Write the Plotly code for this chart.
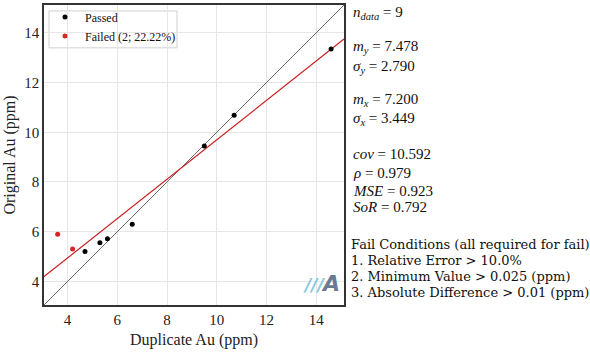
import numpy as np
import plotly.graph_objects as go

# Data
dup_pass = [4.7, 5.3, 5.6, 6.6, 9.5, 10.7, 14.6]
orig_pass = [5.2, 5.55, 5.72, 6.3, 9.45, 10.68, 13.35]
dup_fail = [3.6, 4.2]
orig_fail = [5.9, 5.3]

n_data = 9
m_y, s_y = 7.478, 2.790
m_x, s_x = 7.200, 3.449
cov, rho, mse, sor = 10.592, 0.979, 0.923, 0.792
fail_lines = [
    "Fail Conditions (all required for fail)",
    "1. Relative Error > 10.0%",
    "2. Minimum Value > 0.025 (ppm)",
    "3. Absolute Difference > 0.01 (ppm)",
]
x_ticks = [4, 6, 8, 10, 12, 14]
y_ticks = [4, 6, 8, 10, 12, 14]
lo, hi = 3.05, 15.12

FONT = "Liberation Serif"
intercept = m_y - sor * m_x
lx = np.array([lo, hi])

L, T, W, H = 44, 4, 300, 301


def px(xp):
    return (xp - L) / W


def py(yp):
    return 1 - (yp - T) / H


fig = go.Figure()
fig.add_trace(go.Scatter(x=lx, y=lx, mode="lines", line=dict(color="#333333", width=0.7),
                         showlegend=False, hoverinfo="skip"))
fig.add_trace(go.Scatter(x=lx, y=intercept + sor * lx, mode="lines",
                         line=dict(color="#c81e1e", width=1.2), showlegend=False, hoverinfo="skip"))
fig.add_trace(go.Scatter(x=dup_pass, y=orig_pass, mode="markers", name="Passed",
                         marker=dict(color="black", size=5)))
fig.add_trace(go.Scatter(x=dup_fail, y=orig_fail, mode="markers", name="Failed (2; 22.22%)",
                         marker=dict(color="#d62728", size=5)))

# legend frame
fig.add_shape(type="rect", xref="paper", yref="paper", layer="between",
              x0=px(49), x1=px(177), y0=py(47), y1=py(10),
              fillcolor="white", line=dict(color="#d0d0d0", width=1))

fig.update_layout(
    width=590, height=352,
    margin=dict(l=L, r=590 - L - W, t=T, b=352 - T - H),
    paper_bgcolor="white", plot_bgcolor="white",
    font=dict(family=FONT, size=14, color="#222222"),
    legend=dict(x=px(45), y=py(2.5), xanchor="left", yanchor="top",
                bgcolor="rgba(0,0,0,0)", borderwidth=0,
                font=dict(size=12, family=FONT, color="#111111"), itemwidth=30),
)
fig.update_xaxes(range=[lo, hi], tickvals=x_ticks, showgrid=True, gridcolor="#e6e6e6",
                 showline=True, linecolor="#333333", linewidth=1.5, mirror=True,
                 ticks="", zeroline=False, tickfont=dict(size=15),
                 title=dict(text="Duplicate Au (ppm)", font=dict(size=16), standoff=7))
fig.update_yaxes(range=[lo, hi], tickvals=y_ticks, showgrid=True, gridcolor="#e6e6e6",
                 showline=True, linecolor="#333333", linewidth=1.5, mirror=True,
                 ticks="", zeroline=False, tickfont=dict(size=15),
                 title=dict(text="Original Au (ppm)", font=dict(size=16), standoff=5))

stats = [
    ("<i>n<sub>data</sub></i> = %d" % n_data, 12),
    ("<i>m<sub>y</sub></i> = %.3f" % m_y, 46),
    ("<i>σ<sub>y</sub></i> = %.3f" % s_y, 66),
    ("<i>m<sub>x</sub></i> = %.3f" % m_x, 99),
    ("<i>σ<sub>x</sub></i> = %.3f" % s_x, 118),
    ("<i>cov</i> = %.3f" % cov, 153),
    ("<i>ρ</i> = %.3f" % rho, 173),
    ("<i>MSE</i> = %.3f" % mse, 191),
    ("<i>SoR</i> = %.3f" % sor, 207),
]
for txt, ypx in stats:
    fig.add_annotation(text=txt, xref="paper", yref="paper",
                       x=px(351), y=py(ypx),
                       xanchor="left", yanchor="middle", showarrow=False,
                       font=dict(size=15, family=FONT, color="#111111"))
for txt, ypx in zip(fail_lines, [244, 260, 276, 292]):
    fig.add_annotation(text=txt, xref="paper", yref="paper",
                       x=px(350), y=py(ypx), borderpad=0,
                       xanchor="left", yanchor="middle", showarrow=False,
                       font=dict(size=13, family="DejaVu Serif", color="#111111"))

# watermark logo
fig.add_annotation(text="<b><i>///</i></b>", xref="paper", yref="paper",
                   x=px(314), y=py(285), showarrow=False,
                   xanchor="center", yanchor="middle",
                   font=dict(size=17, family="DejaVu Sans", color="#86c8dc"))
fig.add_annotation(text="<b><i>A</i></b>", xref="paper", yref="paper",
                   x=px(330), y=py(283), showarrow=False,
                   xanchor="center", yanchor="middle",
                   font=dict(size=22, family="DejaVu Sans", color="#6a7a93"))

fig.write_html("out.html")
